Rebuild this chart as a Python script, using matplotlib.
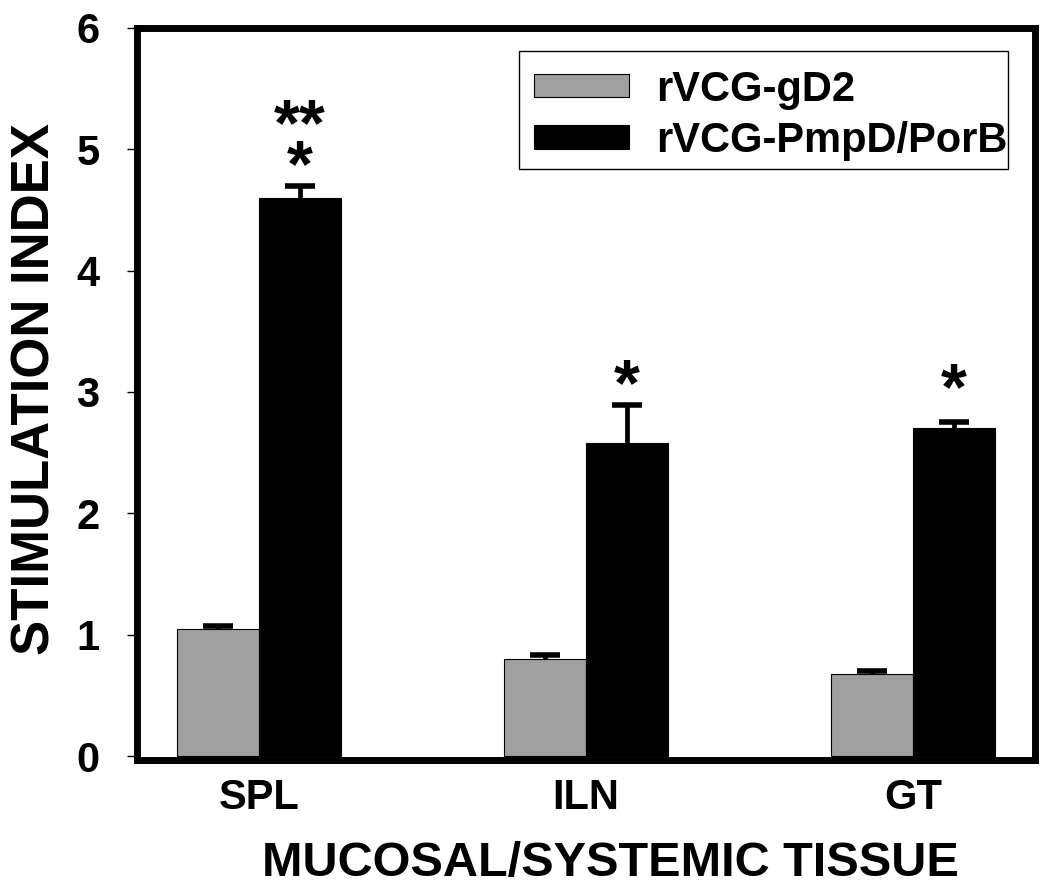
import numpy as np
import matplotlib
matplotlib.use('Agg')
import matplotlib.pyplot as plt
from matplotlib.patches import Rectangle

# data
tissues = ['SPL', 'ILN', 'GT']
groups = ['rVCG-gD2', 'rVCG-PmpD/PorB']
gd2_mean = [1.05, 0.80, 0.68]
gd2_err = [0.02, 0.03, 0.02]
pmpd_mean = [4.60, 2.58, 2.70]
pmpd_err = [0.10, 0.31, 0.05]
stars = ['**\n*', '*', '*']
star_y = [4.58, 2.78, 2.74]

plt.rcParams['font.family'] = ['Liberation Sans', 'DejaVu Sans']
plt.rcParams['font.weight'] = 'bold'

fig = plt.figure(figsize=(10.5, 8.85), dpi=100)
ax = fig.add_axes([0.1305, 0.1412, 0.8552, 0.8272])

x = np.arange(len(tissues))
w = 0.25

ax.bar(x - w / 2, gd2_mean, w, color='#a0a0a0', edgecolor='black',
       linewidth=0.8, label=groups[0])
ax.bar(x + w / 2, pmpd_mean, w, color='black', edgecolor='black',
       linewidth=0.8, label=groups[1])

# upper-only error bars, no lower cap
for xs, m, e in [(x - w / 2, gd2_mean, gd2_err), (x + w / 2, pmpd_mean, pmpd_err)]:
    _, caps, _ = ax.errorbar(xs, m, yerr=[np.zeros(3), e], fmt='none',
                             ecolor='black', elinewidth=3.4, capsize=11,
                             capthick=4)
    caps[0].set_visible(False)

# significance marks
for i in range(len(tissues)):
    ax.text(x[i] + w / 2, star_y[i], stars[i], ha='center', va='bottom',
            fontsize=48, fontweight='bold', linespacing=0.56)

ax.set_xlim(-0.373, 2.373)
ax.set_ylim(-0.033, 6)
ax.set_yticks(range(7))
ax.set_xticks(x)
ax.set_xticklabels(tissues)
ax.tick_params(axis='y', length=7, width=1, pad=20, labelsize=30)
ax.tick_params(axis='x', length=0, pad=13, labelsize=30)

for sp in ax.spines.values():
    sp.set_linewidth(5)

ax.set_xlabel('MUCOSAL/SYSTEMIC TISSUE', fontsize=35, fontweight='bold')
ax.set_ylabel('STIMULATION INDEX', fontsize=38, fontweight='bold')
ax.xaxis.set_label_coords(0.527, -0.11)
ax.yaxis.set_label_coords(-0.085, 0.507)

leg = ax.legend(loc='upper right', bbox_to_anchor=(1022 / 1050, 1 - 55 / 885),
                bbox_transform=fig.transFigure, borderaxespad=0, fontsize=30,
                frameon=False, handlelength=2.28, handleheight=0.48,
                handletextpad=0.65, labelspacing=0.27, borderpad=0.35)
# legend box: text runs right up to the frame in the reference
fig.patches.append(Rectangle((519 / 1050, 1 - 169 / 885), 489 / 1050, 118 / 885,
                             transform=fig.transFigure, fill=False,
                             edgecolor='black', linewidth=1, zorder=5))

fig.savefig('out.png', dpi=100)
